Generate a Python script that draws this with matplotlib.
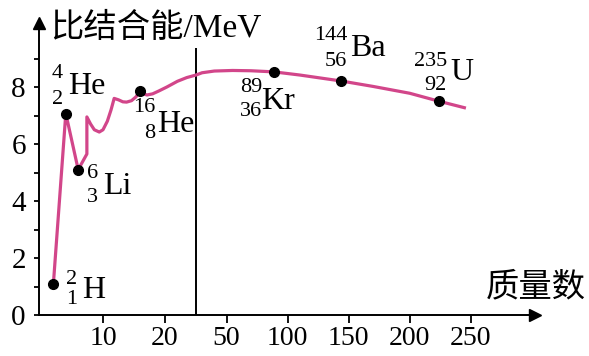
import numpy as np
import matplotlib
matplotlib.use('Agg')
import matplotlib.pyplot as plt

# 比结合能曲线 (质量数, MeV)
curva_A = [2, 4, 6, 7.4, 7.4, 8.0, 8.6, 9.4, 10.0, 10.7, 11.3, 11.8, 12.5, 13.2,
           13.8, 14.6, 15.3, 16, 16.5, 17.1, 18, 19, 20.3, 22, 23.5, 25, 30, 40,
           55, 70, 89, 110, 144, 170, 200, 224, 246]
curva_E = [1.1, 7.07, 5.1, 5.65, 6.95, 6.7, 6.5, 6.42, 6.5, 6.8, 7.2, 7.6, 7.55, 7.48,
           7.47, 7.52, 7.65, 7.86, 7.76, 7.72, 7.76, 7.86, 8.0, 8.2, 8.33, 8.42, 8.5, 8.56,
           8.58, 8.57, 8.53, 8.42, 8.21, 8.02, 7.78, 7.5, 7.26]

# 标注的核素
pontos_A = [2, 4, 6, 16, 89, 144, 224]
pontos_E = [1.1, 7.07, 5.1, 7.86, 8.53, 8.21, 7.5]

xticks = [10, 20, 50, 100, 150, 200, 250]
yticks = [0, 2, 4, 6, 8]
quebra = 25      # 横轴在此处改变比例
k = 0.197


def fwd(x):
    x = np.asarray(x, dtype=float)
    return np.where(x <= quebra, x, quebra + (x - quebra) * k)


def inv(u):
    u = np.asarray(u, dtype=float)
    return np.where(u <= quebra, u, quebra + (u - quebra) / k)


W, H = 589, 356
fig = plt.figure(figsize=(W / 100, H / 100), dpi=100)
x0, y0, x1, y1 = 39, 315, 535, 23
ax = fig.add_axes([x0 / W, 1 - y0 / H, (x1 - x0) / W, (y0 - y1) / H])

serif = 'Liberation Serif'
fam = [serif, 'Noto Sans CJK SC']

ax.set_xscale('function', functions=(fwd, inv))
ax.set_xlim(float(inv((x0 - 41) / 6.2)), float(inv((x1 - 41) / 6.2)))
ax.set_ylim(0, (y0 - y1) / 28.5)

ax.plot(curva_A, curva_E, color='#d2468a', lw=2.3, solid_capstyle='butt', zorder=2)
ax.plot(pontos_A, pontos_E, 'o', color='black', ms=7, zorder=3)
ax.vlines(quebra, 0, 9.37, color='black', lw=1.4, zorder=1)

for s in ['top', 'right']:
    ax.spines[s].set_visible(False)
for s in ['left', 'bottom']:
    ax.spines[s].set_linewidth(1.4)

ax.plot(1, 0, '>', color='black', ms=9, transform=ax.transAxes, clip_on=False)
ax.plot(0, 1, '^', color='black', ms=9, transform=ax.transAxes, clip_on=False)

ax.set_xticks(xticks)
ax.set_xticklabels([str(t) for t in xticks])
ax.set_yticks(yticks)
ax.set_yticklabels([str(t) for t in yticks])
ax.set_yticks(range(1, 10), minor=True)
ax.xaxis.set_minor_locator(matplotlib.ticker.NullLocator())
ax.tick_params(axis='x', direction='out', length=6, width=1.3, pad=2, labelsize=20)
ax.tick_params(axis='y', which='both', direction='out', length=3.5, width=1.3, pad=6, labelsize=21)
for lab in ax.get_xticklabels() + ax.get_yticklabels():
    lab.set_family(serif)

fig.text(50 / W, 1 - 28 / H, '比结合能/MeV', family=fam, fontsize=24, va='center', ha='left')
fig.text(586 / W, 1 - 288 / H, '质量数', family=fam, fontsize=24, va='center', ha='right')


def px(x, y, s, size, ha='left'):
    fig.text(x / W, 1 - y / H, s, family=serif, fontsize=size, ha=ha, va='center')


# (右边缘, 上数字y, 下数字y, 上数字, 下数字, 元素x, 元素y, 元素)
rotulos = [
    (77, 279, 299, '2', '1', 82, 290, 'H'),
    (63, 73, 99, '4', '2', 68, 87, 'He'),
    (98, 174, 198, '6', '3', 103, 186, 'Li'),
    (155, 107, 134, '16', '8', 157, 125, 'He'),
    (262, 88, 111, '89', '36', 261, 102, 'Kr'),
    (347, 36, 61, '144', '56', 350, 48, 'Ba'),
    (447, 61, 86, '235', '92', 450, 72, 'U'),
]
for xr, ys, yi, sup, sub, xe, ye, el in rotulos:
    px(xr, ys, sup, 16, ha='right')
    px(xr, yi, sub, 16, ha='right')
    px(xe, ye, el, 23)

fig.savefig('out.png', dpi=100)
